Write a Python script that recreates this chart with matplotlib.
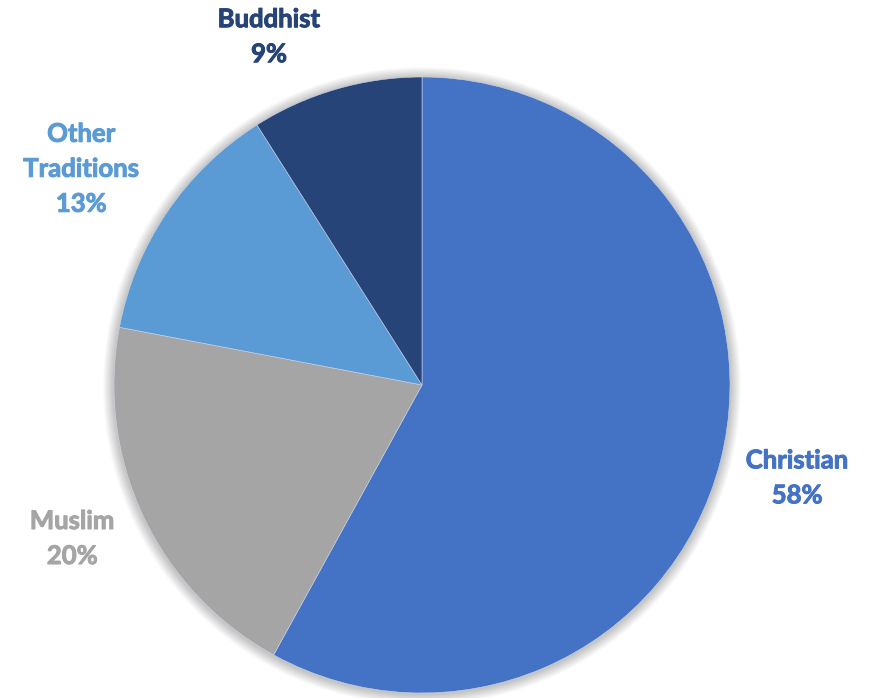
import numpy as np
import matplotlib
matplotlib.use("Agg")
import matplotlib.pyplot as plt
import matplotlib.patheffects as pe
from matplotlib.patches import Circle

# Data
religions = ["Christian", "Muslim", "Other\nTraditions", "Buddhist"]
shares = [58, 20, 13, 9]
colors = ["#4472C4", "#A5A5A5", "#5B9BD5", "#264478"]

# label distance (in radii) and angle tweak (degrees) per slice
label_dist = [1.255, 1.24, 1.31, 1.235]
label_shift = [0.5, -1.5, 1.8, 7.5]

fig = plt.figure(figsize=(8.74, 6.98), dpi=100)
ax = fig.add_axes([0, 0, 1, 1])

cx, cy, r = 422, 313, 308

# soft shadow around the pie
for i in range(12):
    ax.add_patch(Circle((cx, cy - 1), r + 1 + i * 0.9, color="black",
                        alpha=0.018, lw=0, zorder=0))

wedges, _ = ax.pie(shares, colors=colors, startangle=90, counterclock=False,
                   center=(cx, cy), radius=r, frame=True,
                   wedgeprops=dict(linewidth=0.4, edgecolor="#c9d5ea"))
ax.set_xlim(0, 874)
ax.set_ylim(0, 698)
ax.set_aspect("equal")
ax.axis("off")

for w, name, val, col, d, sh in zip(wedges, religions, shares, colors,
                                    label_dist, label_shift):
    mid = np.deg2rad((w.theta1 + w.theta2) / 2 + sh)
    x = cx + d * r * np.cos(mid)
    y = cy + d * r * np.sin(mid)
    t = ax.text(x, y, f"{name}\n{val}%", ha="center", va="center", color=col,
                fontsize=18.5, fontweight="bold", family="Lato",
                linespacing=1.55)
    # thicken glyphs a bit to look like the heavier original font
    t.set_path_effects([pe.withStroke(linewidth=0.7, foreground=col)])

fig.savefig("out.png", dpi=100)
